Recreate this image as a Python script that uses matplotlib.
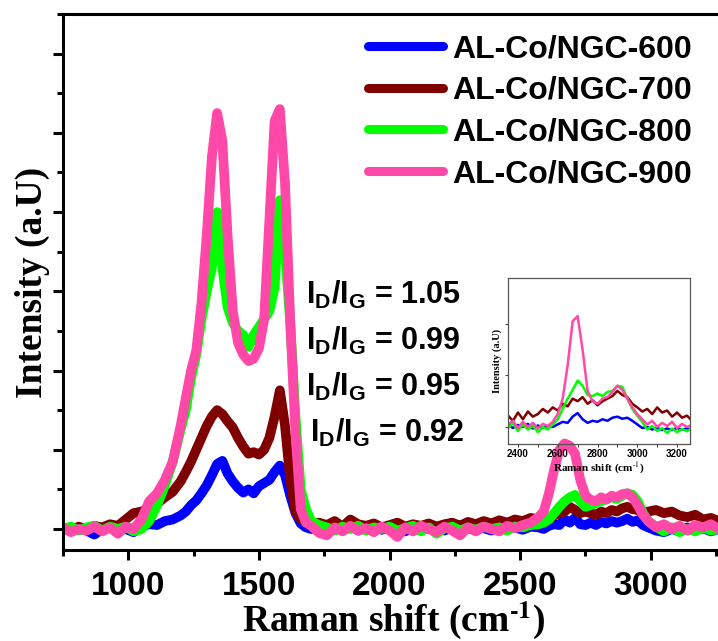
import numpy as np
import matplotlib
matplotlib.use("Agg")
import matplotlib.pyplot as plt
from matplotlib.ticker import MultipleLocator

plt.rcParams['mathtext.fontset'] = 'custom'
plt.rcParams['mathtext.rm'] = 'Liberation Sans'
plt.rcParams['mathtext.bf'] = 'Liberation Sans:bold'

# ---- main spectra (sampling grid, cm-1) ----
raman_shift = np.r_[np.arange(750, 1201, 30), np.arange(1220, 1701, 20),
                    np.arange(1730, 2571, 30), np.arange(2590, 2991, 20),
                    np.arange(3020, 3291, 30)]

ngc600 = [0.02, -0.03, 0.01, -0.02, -0.07, 0.0, 0.02, -0.02, 0.0, -0.04, 0.03, 0.06, 0.05, 0.1, 0.12, 0.17,
          0.22, 0.3, 0.36, 0.45, 0.55, 0.68, 0.82, 0.86, 0.7, 0.6, 0.52, 0.46, 0.5, 0.45, 0.54, 0.58, 0.62,
          0.72, 0.8, 0.68, 0.42, 0.2, 0.07, 0.02, 0.0,
          0.02, -0.03, 0.03, 0.0, 0.04, -0.02, 0.02, 0.05, -0.01, 0.03, 0.0, -0.03, 0.02, 0.04, 0.0, 0.03,
          -0.02, 0.02, 0.05, 0.0, 0.03, 0.01, -0.02, 0.03, 0.0, 0.02, -0.01, 0.03, 0.02,
          0.0, 0.04, 0.06, 0.05, 0.12, 0.08, 0.14, 0.06, 0.05, 0.08, 0.05, 0.09, 0.07, 0.1, 0.08, 0.1,
          0.13, 0.09, 0.11, 0.05, 0.02,
          -0.02, -0.04, 0.0, -0.03, 0.02, -0.02, 0.01, -0.03, 0.0, -0.02]

ngc700 = [0.02, -0.03, 0.03, -0.01, 0.04, 0.02, 0.06, 0.04, 0.12, 0.2, 0.22, 0.26, 0.32, 0.4, 0.47, 0.6,
          0.72, 0.85, 1.0, 1.15, 1.3, 1.42, 1.5, 1.45, 1.36, 1.28, 1.15, 1.04, 0.95, 0.97, 0.94, 1.0, 1.15,
          1.42, 1.75, 1.3, 0.62, 0.22, 0.12, 0.1, 0.07,
          0.08, 0.05, 0.1, 0.03, 0.12, 0.06, 0.04, 0.07, 0.02, 0.05, 0.08, 0.03, 0.06, 0.04, 0.07, 0.03,
          0.06, 0.08, 0.04, 0.09, 0.06, 0.1, 0.07, 0.11, 0.08, 0.12, 0.1, 0.14, 0.12,
          0.15, 0.13, 0.17, 0.2, 0.22, 0.28, 0.24, 0.2, 0.22, 0.2, 0.18, 0.22, 0.2, 0.24, 0.22, 0.26,
          0.28, 0.25, 0.24, 0.2, 0.22,
          0.24, 0.2, 0.22, 0.17, 0.15, 0.18, 0.12, 0.14, 0.1, 0.08]

ngc800 = [0.0, 0.03, -0.02, 0.02, 0.04, -0.02, 0.03, 0.0, 0.03, -0.03, 0.0, 0.1, 0.3, 0.55, 0.85, 1.25,
          1.5, 1.9, 2.2, 2.65, 3.0, 3.3, 4.0, 3.3, 2.8, 2.6, 2.5, 2.45, 2.3, 2.45, 2.55, 2.65, 2.75,
          3.05, 4.15, 3.5, 2.6, 1.4, 0.5, 0.25, 0.1,
          0.05, 0.02, -0.02, 0.03, 0.0, 0.04, -0.02, 0.02, 0.0, 0.03, -0.02, 0.01, 0.04, -0.03, 0.02, -0.06,
          0.01, 0.03, -0.02, 0.02, -0.01, 0.03, 0.0, 0.02, -0.02, 0.03, 0.02, 0.05, 0.06,
          0.08, 0.12, 0.2, 0.28, 0.35, 0.4, 0.43, 0.35, 0.28, 0.3, 0.33, 0.35, 0.38, 0.4, 0.38, 0.42,
          0.45, 0.43, 0.35, 0.2, 0.1,
          0.03, -0.03, 0.02, -0.04, 0.0, -0.03, 0.02, -0.02, 0.0, -0.03]

ngc900 = [0.02, -0.04, 0.0, -0.02, 0.03, -0.03, 0.02, -0.06, 0.03, 0.0, 0.12, 0.35, 0.45, 0.62, 0.85, 1.3,
          1.65, 2.0, 2.25, 2.85, 3.7, 4.7, 5.25, 4.9, 3.7, 2.75, 2.35, 2.2, 2.12, 2.15, 2.28, 2.65, 3.9,
          5.15, 5.3, 4.35, 2.6, 1.2, 0.25, 0.08, 0.04,
          -0.05, -0.08, 0.02, -0.03, 0.04, -0.02, 0.01, -0.04, 0.03, -0.02, -0.1, 0.02, -0.03, 0.04, 0.0,
          -0.04, 0.03, -0.02, -0.08, 0.02, -0.03, 0.03, 0.0, -0.03, 0.04, 0.01, 0.05, 0.08, 0.15,
          0.22, 0.45, 0.75, 1.0, 1.08, 1.05, 0.95, 0.62, 0.42, 0.37, 0.35, 0.4, 0.37, 0.42, 0.4, 0.44,
          0.45, 0.4, 0.3, 0.18, 0.1,
          0.02, 0.06, 0.0, 0.04, -0.02, 0.05, 0.02, 0.06, 0.0, 0.03]

# ---- inset spectra (2D region) ----
inset_shift = np.arange(2350, 3276, 25)
in600 = [0.05, -0.02, 0.04, 0.0, 0.06, -0.03, 0.03, -0.02, 0.02, 0.0, 0.05, 0.1, 0.08, 0.2, 0.27, 0.15,
         0.08, 0.12, 0.1, 0.15, 0.12, 0.18, 0.2, 0.16, 0.18, 0.12, 0.05, -0.02, 0.0, -0.05, -0.02, -0.06,
         -0.03, -0.06, -0.02, -0.05, -0.03, -0.05]
in700 = [0.22, 0.12, 0.28, 0.15, 0.3, 0.2, 0.25, 0.35, 0.28, 0.38, 0.32, 0.45, 0.4, 0.55, 0.5, 0.58,
         0.45, 0.52, 0.42, 0.5, 0.55, 0.6, 0.7, 0.62, 0.58, 0.45, 0.38, 0.3, 0.35, 0.25, 0.38, 0.28,
         0.32, 0.2, 0.28, 0.18, 0.22, 0.12]
in800 = [-0.02, 0.08, -0.08, 0.05, -0.05, 0.03, -0.1, 0.0, -0.05, 0.05, 0.15, 0.35, 0.55, 0.72, 0.9, 0.8,
         0.62, 0.6, 0.65, 0.6, 0.68, 0.7, 0.8, 0.78, 0.55, 0.35, 0.22, 0.1, -0.05, 0.02, -0.08, -0.02,
         -0.12, -0.03, -0.1, -0.04, -0.08, -0.02]
in900 = [0.05, 0.12, -0.02, 0.1, 0.0, 0.08, -0.03, 0.06, 0.02, 0.1, 0.25, 0.55, 1.2, 2.05, 2.15, 1.5,
         0.7, 0.5, 0.45, 0.55, 0.58, 0.68, 0.8, 0.72, 0.55, 0.38, 0.25, 0.15, 0.05, 0.12, 0.0, 0.08,
         0.02, 0.1, -0.02, 0.06, 0.0, 0.04]

labels = ['AL-Co/NGC-600', 'AL-Co/NGC-700', 'AL-Co/NGC-800', 'AL-Co/NGC-900']
colors = ['#0000FF', '#800000', '#00FF00', '#FF48A8']
ratios = ['1.05', '0.99', '0.95', '0.92']

W, H = 718, 641
fig = plt.figure(figsize=(W / 100, H / 100), dpi=100)
ax = fig.add_axes([63 / W, 91 / H, 662 / W, 536 / H])

for ys, c, lab in zip([ngc600, ngc700, ngc800, ngc900], colors, labels):
    ax.plot(raman_shift, ys, color=c, lw=7, label=lab,
            solid_capstyle='round', solid_joinstyle='round')

ax.set_xlim(750, 3284)
ax.set_ylim(-0.265, 6.5)
ax.xaxis.set_major_locator(MultipleLocator(500))
ax.xaxis.set_minor_locator(MultipleLocator(250))
ax.yaxis.set_major_locator(MultipleLocator(1))
ax.yaxis.set_minor_locator(MultipleLocator(0.5))
ax.tick_params(which='major', direction='out', length=7, width=2.2, pad=8)
ax.tick_params(which='minor', direction='out', length=4, width=2.2)
ax.tick_params(axis='y', labelleft=False)
for lab in ax.get_xticklabels():
    lab.set_fontfamily('Liberation Sans')
    lab.set_fontweight('bold')
    lab.set_fontsize(24)
for s in ax.spines.values():
    s.set_linewidth(2.2)

ax.set_xlabel('Raman shift (cm$^{\\mathbf{\u2010}\\mathbf{1}}$)', fontfamily='Liberation Serif',
              fontweight='bold', fontsize=27, math_fontfamily='stix', labelpad=-2)
ax.set_ylabel('Intensity (a.U)', fontfamily='Liberation Serif', fontweight='bold',
              fontsize=27, labelpad=2)

leg = ax.legend(loc='upper left', bbox_to_anchor=(368 / W, 1 - 34 / H),
                bbox_transform=fig.transFigure, frameon=False, borderpad=0,
                borderaxespad=0, handlelength=2.35, handletextpad=0.3,
                labelspacing=0.37, prop={'family': 'Liberation Sans', 'weight': 'bold', 'size': 23})
for h in leg.get_lines():
    h.set_linewidth(6.5)

for i, r in enumerate(ratios):
    fig.text((306 + (4 if i == 3 else 0)) / W, 1 - (295 + 46 * i) / H, r'$\mathbf{I_D/I_G}$ = ' + r,
             fontfamily='Liberation Sans', fontweight='bold', fontsize=22,
             ha='left', va='center')

# inset
axin = fig.add_axes([508 / W, 197 / H, 182 / W, 166 / H])
axin.patch.set_alpha(0)
for ys, c in zip([in600, in700, in800, in900], colors):
    axin.plot(inset_shift, ys, color=c, lw=1.8)
axin.set_xlim(2350, 3265)
axin.set_ylim(-0.33, 2.89)
axin.xaxis.set_major_locator(MultipleLocator(200))
axin.xaxis.set_minor_locator(MultipleLocator(100))
axin.yaxis.set_major_locator(MultipleLocator(1))
axin.tick_params(which='both', direction='out', length=2, width=0.8, color='#444444', pad=1.5)
axin.tick_params(axis='y', labelleft=False)
for lab in axin.get_xticklabels():
    lab.set_fontfamily('Liberation Sans')
    lab.set_fontweight('bold')
    lab.set_fontsize(7)
for s in axin.spines.values():
    s.set_linewidth(0.9)
    s.set_color('#555555')
axin.set_xlabel('Raman shift (cm$^{\u2010 1}$)', fontfamily='Liberation Serif', fontweight='bold',
                fontsize=8, math_fontfamily='stix', labelpad=1)
axin.set_ylabel('Intensity (a.U)', fontfamily='Liberation Serif', fontweight='bold',
                fontsize=7.5, labelpad=2)

fig.savefig('out.png', dpi=100)
